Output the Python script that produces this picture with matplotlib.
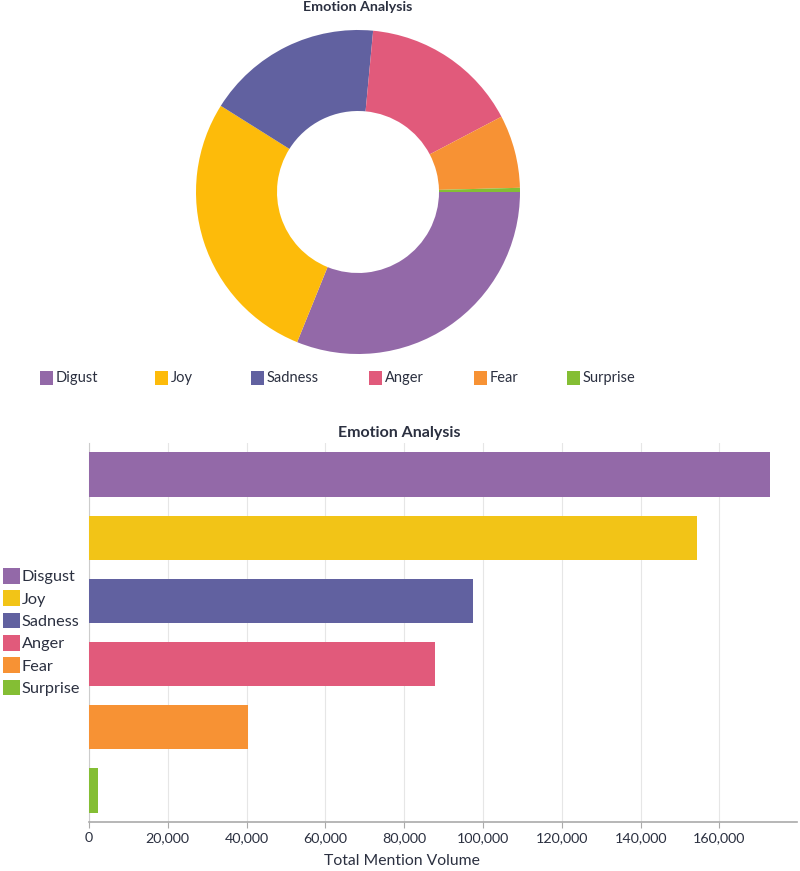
import matplotlib
matplotlib.use("Agg")
import matplotlib.pyplot as plt
from matplotlib.patches import Patch
from matplotlib.ticker import FuncFormatter

plt.rcParams['font.family'] = ['Lato', 'DejaVu Sans']

emotions = ["Disgust", "Joy", "Sadness", "Anger", "Fear", "Surprise"]
pie_labels = ["Digust", "Joy", "Sadness", "Anger", "Fear", "Surprise"]
volumes = [172800, 154300, 97500, 87800, 40400, 2300]
pie_colors = ["#9369a8", "#fdbb0a", "#6161a0", "#e15a7b", "#f79234", "#84be34"]
bar_colors = ["#9369a8", "#f2c417", "#6161a0", "#e15a7b", "#f79234", "#84be34"]
title = "Emotion Analysis"
xlabel = "Total Mention Volume"
xticks = [0, 20000, 40000, 60000, 80000, 100000, 120000, 140000, 160000]

W, H = 800, 871
fig = plt.figure(figsize=(W/100, H/100), dpi=100)
text_color = "#2b3040"

# Donut
cx, cy, r = 358, 192, 162
ax1 = fig.add_axes([(cx-r)/W, 1-(cy+r)/H, 2*r/W, 2*r/H])
ax1.pie(volumes, colors=pie_colors, startangle=0, counterclock=False,
        wedgeprops=dict(width=0.5, linewidth=0))
ax1.set_aspect('equal')
ax1.set_xlim(-1, 1); ax1.set_ylim(-1, 1)
fig.text(358/W, 1-7/H, title, ha='center', va='center', fontsize=10.3,
         fontweight='bold', color=text_color)

# Donut legend row
leg_x = [40, 155, 251, 369, 474, 567]
for x, lab, c in zip(leg_x, pie_labels, pie_colors):
    fig.patches.append(plt.Rectangle((x/W, 1-385/H), 13/W, 14/H, transform=fig.transFigure,
                                     facecolor=c, edgecolor='none'))
    fig.text((x+16)/W, 1-378/H, lab, ha='left', va='center', fontsize=10.5, color=text_color)

# Bar chart
left, right, top, bottom = 89, 797, 443, 822
ax2 = fig.add_axes([left/W, 1-bottom/H, (right-left)/W, (bottom-top)/H])
ypos = list(range(len(emotions)))
ax2.barh(ypos, volumes, height=0.7, color=bar_colors, zorder=3)
ax2.set_ylim(len(emotions)-0.5, -0.5)
ax2.set_xlim(0, 179700)
ax2.set_xticks(xticks)
ax2.xaxis.set_major_formatter(FuncFormatter(lambda v, p: f"{int(v):,}"))
ax2.set_yticks([])
ax2.grid(axis='x', color='#e6e6e6', linewidth=0.8, zorder=0)
for s in ['top', 'right']:
    ax2.spines[s].set_visible(False)
ax2.spines['left'].set_color('#cccccc')
ax2.spines['bottom'].set_color('#aaaaaa')
ax2.spines['bottom'].set_linewidth(1.2)
ax2.tick_params(axis='x', colors='#aaaaaa', labelcolor=text_color, labelsize=10.3, length=4)
ax2.set_xlabel(xlabel, fontsize=11.3, color=text_color)
ax2.xaxis.set_label_coords((402-left)/(right-left), -(861-bottom)/(bottom-top))
ax2.xaxis.label.set_va('center')
fig.text(399/W, 1-433/H, title, ha='center', va='center', fontsize=11.5,
         fontweight='bold', color=text_color)

handles = [Patch(facecolor=c, edgecolor='none', label=e) for e, c in zip(emotions, bar_colors)]
fig.legend(handles=handles, loc='center left', bbox_to_anchor=(0/W, 1-632/H),
           frameon=False, fontsize=11.7, handlelength=1.05, handleheight=1.1,
           handletextpad=0.1, labelspacing=0.37, borderpad=0.2, borderaxespad=0,
           labelcolor=text_color)

fig.savefig("out.png", dpi=100)
